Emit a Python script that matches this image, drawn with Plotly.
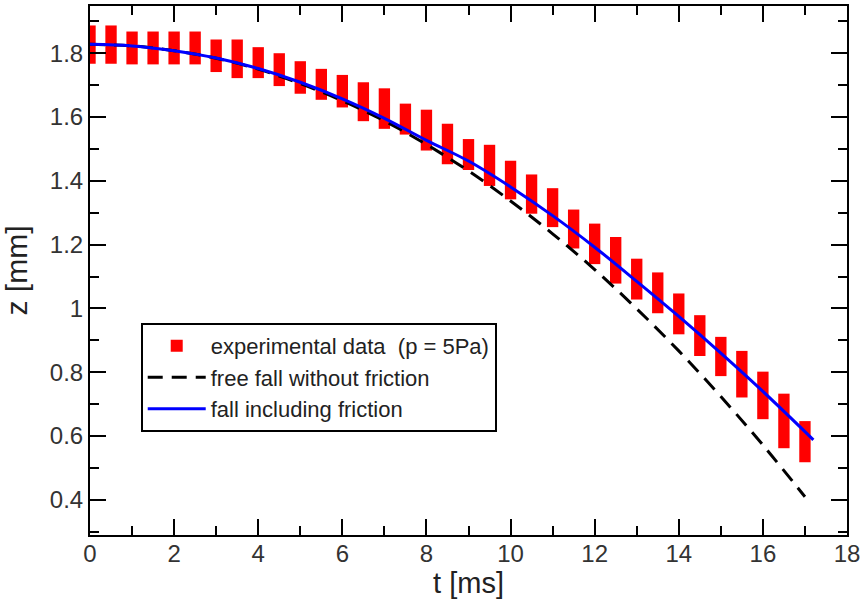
import plotly.graph_objects as go

# experimental data: time (ms), bar top and bottom (mm)
t_exp = [0, 0.5, 1, 1.5, 2, 2.5, 3, 3.5, 4, 4.5, 5, 5.5, 6, 6.5, 7, 7.5, 8, 8.5,
         9, 9.5, 10, 10.5, 11, 11.5, 12, 12.5, 13, 13.5, 14, 14.5, 15, 15.5, 16, 16.5, 17]
z_top = [1.887, 1.887, 1.868, 1.868, 1.868, 1.868, 1.843, 1.843, 1.819, 1.800, 1.775, 1.751,
         1.732, 1.709, 1.690, 1.642, 1.623, 1.579, 1.531, 1.513, 1.463, 1.420, 1.377, 1.310,
         1.266, 1.224, 1.156, 1.113, 1.047, 0.979, 0.911, 0.867, 0.802, 0.733, 0.647]
z_bot = [1.767, 1.767, 1.765, 1.765, 1.765, 1.765, 1.741, 1.722, 1.722, 1.697, 1.673, 1.654,
         1.630, 1.587, 1.563, 1.545, 1.495, 1.452, 1.434, 1.384, 1.342, 1.297, 1.255, 1.188,
         1.139, 1.078, 1.028, 0.985, 0.919, 0.851, 0.788, 0.721, 0.653, 0.562, 0.518]

# free fall without friction
t_free = [0, 1, 2, 3, 4, 5, 6, 7, 8, 9, 10, 11, 12, 13, 14, 15, 16, 17]
z_free = [1.828, 1.823, 1.808, 1.784, 1.750, 1.705, 1.651, 1.588, 1.514, 1.431, 1.337,
          1.234, 1.122, 0.999, 0.867, 0.724, 0.572, 0.410]

# fall including friction
t_fric = [0, 1, 2, 3, 4, 5, 6, 7, 8, 9, 10, 11, 12, 13, 14, 15, 16, 17, 17.2]
z_fric = [1.828, 1.823, 1.808, 1.785, 1.752, 1.709, 1.657, 1.596, 1.527, 1.462, 1.381,
          1.291, 1.192, 1.085, 0.975, 0.860, 0.740, 0.614, 0.588]

x_ticks = [0, 2, 4, 6, 8, 10, 12, 14, 16, 18]
y_ticks = [0.4, 0.6, 0.8, 1.0, 1.2, 1.4, 1.6, 1.8]
y_labels = ["0.4", "0.6", "0.8", "1", "1.2", "1.4", "1.6", "1.8"]

heights = [a - b for a, b in zip(z_top, z_bot)]

FONT = "Arial, Liberation Sans, sans-serif"

fig = go.Figure()
fig.add_trace(go.Bar(
    x=t_exp, y=heights, base=z_bot, width=0.27,
    marker=dict(color="#ff0000", line=dict(width=0)),
    name="experimental data  (p = 5Pa)",
))
fig.add_trace(go.Scatter(
    x=t_free, y=z_free, mode="lines", line_shape="spline",
    line=dict(color="black", width=3, dash="15px,9px"),
    name="free fall without friction",
))
fig.add_trace(go.Scatter(
    x=t_fric, y=z_fric, mode="lines", line_shape="spline",
    line=dict(color="#0000ff", width=3),
    name="fall including friction",
))

axis_common = dict(
    showgrid=False, zeroline=False, automargin=False,
    showline=True, linecolor="black", linewidth=2, mirror="allticks",
    ticks="inside", ticklen=16, tickwidth=2, tickcolor="black",
    tickfont=dict(family=FONT, size=24, color="#333"),
)

fig.update_layout(
    width=862, height=601,
    margin=dict(l=90, r=15, t=6, b=66),
    paper_bgcolor="white", plot_bgcolor="white",
    showlegend=True,
    legend=dict(
        x=0.067, y=0.401, xanchor="left", yanchor="top",
        bordercolor="black", borderwidth=2, bgcolor="white",
        font=dict(family=FONT, size=22, color="#222"),
        tracegroupgap=0, itemwidth=58,
    ),
    xaxis=dict(
        range=[0, 18], tickmode="array", tickvals=x_ticks,
        ticklabelstandoff=-4,
        minor=dict(ticks="inside", ticklen=9, tickwidth=2, tickcolor="black", dtick=1, tick0=0),
        title=dict(text="t [ms]", standoff=0,
                   font=dict(family=FONT, size=29, color="#222")),
        **axis_common,
    ),
    yaxis=dict(
        range=[0.29, 1.948], tickmode="array", tickvals=y_ticks, ticktext=y_labels,
        minor=dict(ticks="inside", ticklen=9, tickwidth=2, tickcolor="black", dtick=0.1, tick0=0),
        title=dict(text="z [mm]", standoff=16,
                   font=dict(family=FONT, size=30, color="#222")),
        **axis_common,
    ),
)

fig.write_html("out.html", config={"displayModeBar": False},
               post_script="document.body.style.margin='0';")
